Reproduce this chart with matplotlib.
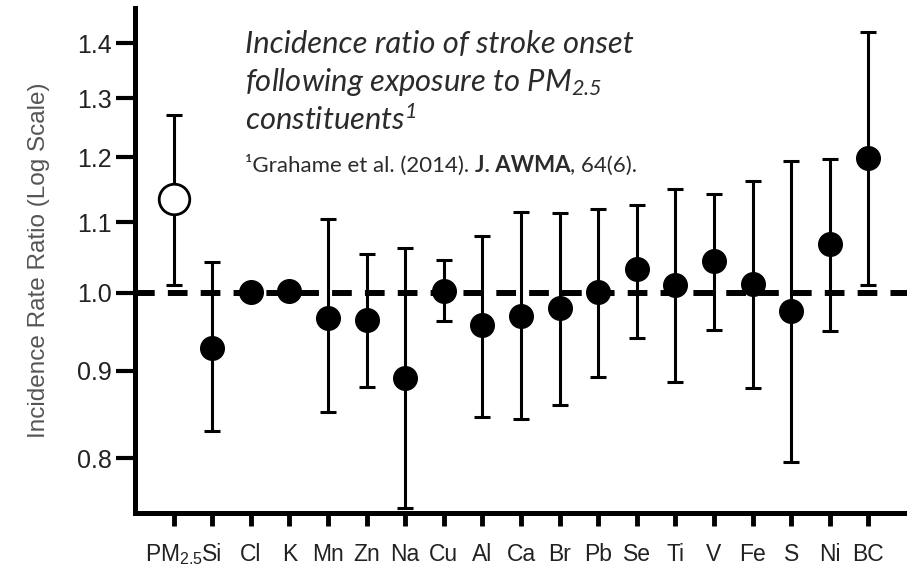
import matplotlib.pyplot as plt
import matplotlib.ticker as mticker
import numpy as np

plt.rcParams['font.family'] = ['Liberation Sans', 'DejaVu Sans']
plt.rcParams['mathtext.fontset'] = 'custom'
plt.rcParams['mathtext.rm'] = 'Lato:italic'
plt.rcParams['mathtext.it'] = 'Lato:italic'
plt.rcParams['mathtext.sf'] = 'Liberation Sans'

# values
labels = [r"PM$_{\mathsf{2.5}}$", "Si", "Cl", "K", "Mn", "Zn", "Na", "Cu", "Al", "Ca",
          "Br", "Pb", "Se", "Ti", "V", "Fe", "S", "Ni", "BC"]
ratio = [1.135, 0.928, 1.001, 1.002, 0.967, 0.964, 0.891, 1.002, 0.957, 0.969,
         0.980, 1.001, 1.032, 1.010, 1.043, 1.012, 0.976, 1.068, 1.199]
lower = [1.011, 0.830, 0.997, 0.998, 0.851, 0.881, 0.748, 0.963, 0.846, 0.843,
         0.859, 0.893, 0.941, 0.886, 0.951, 0.879, 0.796, 0.950, 1.010]
upper = [1.271, 1.042, 1.005, 1.006, 1.105, 1.054, 1.062, 1.045, 1.079, 1.115,
         1.114, 1.119, 1.126, 1.150, 1.142, 1.163, 1.195, 1.198, 1.421]
yticks = [0.8, 0.9, 1.0, 1.1, 1.2, 1.3, 1.4]
title_lines = ["Incidence ratio of stroke onset",
               "following exposure to PM$_{2.5}$",
               "constituents$^{1}$"]

x = np.arange(len(labels))
ratio = np.array(ratio)
err = [ratio - np.array(lower), np.array(upper) - ratio]

fig = plt.figure(figsize=(9.07, 5.69), dpi=100)
ax = fig.add_axes([135/907, 56/569, 772/907, 505/569])

ax.axhline(1.0, color='black', lw=4.3, ls=(0, (3.3, 2.2)), zorder=1)
ax.errorbar(x, ratio, yerr=err, fmt='none', ecolor='black', elinewidth=2.2,
            capsize=6, capthick=2.2, zorder=2)
ax.plot(x[1:], ratio[1:], 'o', color='black', ms=17, zorder=3)
ax.plot(x[:1], ratio[:1], 'o', mfc='white', mec='black', mew=2, ms=22, zorder=3)

ax.set_yscale('log')
ax.set_ylim(0.743, 1.468)
ax.set_xlim(-1, 19)
ax.yaxis.set_major_locator(mticker.FixedLocator(yticks))
ax.yaxis.set_minor_locator(mticker.NullLocator())
ax.set_yticklabels([f"{t:.1f}" for t in yticks])
ax.set_xticks(x)
ax.set_xticklabels(labels)

for s in ['top', 'right']:
    ax.spines[s].set_visible(False)
for s in ['left', 'bottom']:
    ax.spines[s].set_linewidth(3.6)
ax.tick_params(axis='y', length=14, width=3, labelsize=18, colors='black',
               labelcolor='#222222', pad=3)
ax.tick_params(axis='x', length=9.5, width=3.5, labelsize=16.5, labelcolor='#222222', pad=12)

ax.set_ylabel("Incidence Rate Ratio (Log Scale)", fontsize=17.5, color='#555555')
ax.yaxis.set_label_coords(-0.110, 0.5)

title_font = dict(family='Lato', style='italic', size=22.3, color='#2b2b2b')
for i, line in enumerate(title_lines):
    fig.text(245/907, 1 - (53 + 38.5*i)/569, line, va='baseline', ha='left', **title_font)

cite = dict(family='Lato', size=16, color='#2b2b2b')
t1 = fig.text(245/907, 1 - 172/569, "¹Grahame et al. (2014). ", va='baseline', ha='left', **cite)
t2 = ax.annotate("J. AWMA", xy=(1, 0), xycoords=t1, va='bottom', ha='left',
                 fontweight='bold', **cite)
ax.annotate(", 64(6).", xy=(1, 0), xycoords=t2, va='bottom', ha='left', **cite)

fig.savefig("out.png", dpi=100)
